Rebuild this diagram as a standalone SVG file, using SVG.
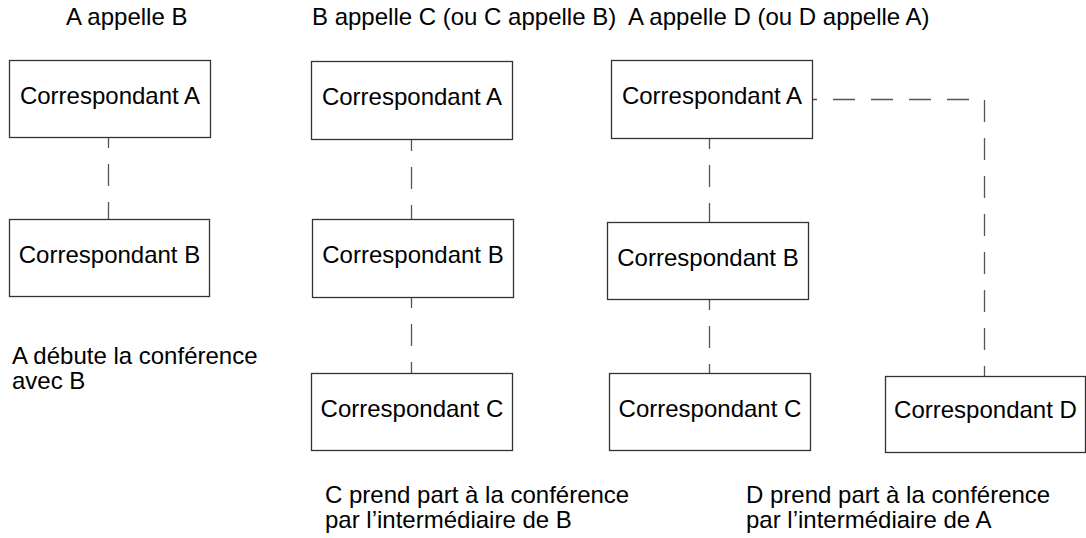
<svg xmlns="http://www.w3.org/2000/svg" width="1086" height="538" viewBox="0 0 1086 538">
<style>
text{font-family:"Liberation Sans",Arial,Helvetica,sans-serif;font-size:24px;fill:#000}
.box rect{fill:#fff;stroke:#333;stroke-width:1.3}
.box text{text-anchor:middle}
.conn path{fill:none;stroke:#555;stroke-width:1.3;stroke-dasharray:22 16}
</style>
<rect width="1086" height="538" fill="#fff"/>
<g id="headings">
<text x="66" y="25">A appelle B</text>
<text x="312" y="25">B appelle C (ou C appelle B)</text>
<text x="628" y="25">A appelle D (ou D appelle A)</text>
</g>
<g id="captions">
<text x="12" y="364">A débute la conférence</text>
<text x="12" y="389">avec B</text>
<text x="325" y="503">C prend part à la conférence</text>
<text x="325" y="528">par l’intermédiaire de B</text>
<text x="746" y="503">D prend part à la conférence</text>
<text x="746" y="528">par l’intermédiaire de A</text>
</g>
<g class="conn" id="connectors">
<path d="M108.5,137 V219" stroke-dashoffset="11"/>
<path d="M411.5,140 V219" stroke-dashoffset="11"/>
<path d="M411.5,297 V373" stroke-dashoffset="11"/>
<path d="M709.5,138 V222" stroke-dashoffset="11"/>
<path d="M709.5,299 V373" stroke-dashoffset="11"/>
<path d="M812,99.5 H984.5 V376" stroke-dashoffset="17"/>
</g>
<g class="box" id="col1-A"><rect x="9.5" y="60.5" width="201" height="77"/><text x="110" y="104">Correspondant A</text></g>
<g class="box" id="col1-B"><rect x="9.5" y="219.5" width="200" height="77"/><text x="109.5" y="263">Correspondant B</text></g>
<g class="box" id="col2-A"><rect x="311.5" y="61.5" width="201" height="78"/><text x="412" y="105">Correspondant A</text></g>
<g class="box" id="col2-B"><rect x="312.5" y="219.5" width="201" height="78"/><text x="413" y="263">Correspondant B</text></g>
<g class="box" id="col2-C"><rect x="311.5" y="373.5" width="201" height="77"/><text x="412" y="417">Correspondant C</text></g>
<g class="box" id="col3-A"><rect x="611.5" y="60.5" width="201" height="78"/><text x="712" y="104">Correspondant A</text></g>
<g class="box" id="col3-B"><rect x="607.5" y="222.5" width="201" height="77"/><text x="708" y="266">Correspondant B</text></g>
<g class="box" id="col3-C"><rect x="609.5" y="373.5" width="201" height="77"/><text x="710" y="417">Correspondant C</text></g>
<g class="box" id="col3-D"><rect x="885.5" y="376.5" width="200" height="76"/><text x="985.5" y="418">Correspondant D</text></g>
</svg>
